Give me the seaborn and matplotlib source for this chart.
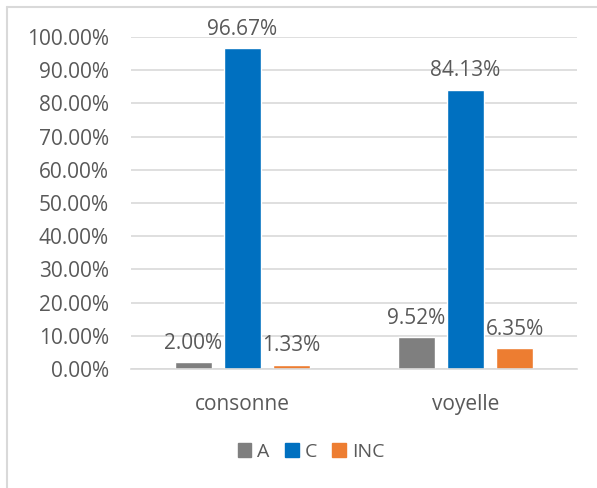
import numpy as np
import pandas as pd
import matplotlib
matplotlib.use('Agg')
import matplotlib.pyplot as plt
from matplotlib.lines import Line2D
from matplotlib.ticker import FuncFormatter
import seaborn as sns

# data
categories = ['consonne', 'voyelle']
series = ['A', 'C', 'INC']
values_A = [2.00, 9.52]
values_C = [96.67, 84.13]
values_INC = [1.33, 6.35]

colors = ['#7F7F7F', '#0070C0', '#ED7D31']
text_color = '#595959'
fs = 15

df = pd.DataFrame({
    'categorie': categories * 3,
    'serie': ['A'] * 2 + ['C'] * 2 + ['INC'] * 2,
    'valeur': values_A + values_C + values_INC,
})

sns.set_style('white')
plt.rcParams['font.family'] = ['Open Sans', 'DejaVu Sans']

W, H = 597, 488
fig = plt.figure(figsize=(W / 100, H / 100), dpi=100)
ax = fig.add_axes([131 / W, 1 - 369 / H, 446 / W, 332 / H])

sns.barplot(data=df, x='categorie', y='valeur', hue='serie', hue_order=series,
            palette=colors, width=0.66, gap=0.23, saturation=1, ax=ax,
            legend=False)

for cont in ax.containers:
    ax.bar_label(cont, fmt='%.2f%%', padding=6, fontsize=fs, color=text_color)

ax.set_ylim(0, 100)
ax.set_xlim(-0.5, 1.5)
ax.set_yticks(np.arange(0, 101, 10))
ax.yaxis.set_major_formatter(FuncFormatter(lambda v, p: f'{v:.2f}%'))
ax.grid(axis='y', color='#D9D9D9', linewidth=1.2)
ax.set_axisbelow(True)
for s in ['top', 'right', 'left']:
    ax.spines[s].set_visible(False)
ax.spines['bottom'].set_color('#D9D9D9')
ax.spines['bottom'].set_linewidth(1.2)
ax.tick_params(axis='both', length=0, labelsize=fs, labelcolor=text_color)
ax.tick_params(axis='y', pad=16)
ax.tick_params(axis='x', pad=18)
ax.set_xlabel('')
ax.set_ylabel('')

handles = [plt.Rectangle((0, 0), 1, 1, color=c) for c in colors]
fig.legend(handles, series, loc='center', bbox_to_anchor=(311 / W, 1 - 452 / H),
           ncol=3, frameon=False, fontsize=14, labelcolor=text_color,
           handlelength=0.7, handleheight=0.7, handletextpad=0.3, columnspacing=0.8)

# chart border (top and left visible)
fig.add_artist(Line2D([7 / W, 1], [1 - 7 / H, 1 - 7 / H], color='#D9D9D9', lw=1.5))
fig.add_artist(Line2D([7 / W, 7 / W], [0, 1 - 7 / H], color='#D9D9D9', lw=1.5))

fig.savefig('out.png', dpi=100)
